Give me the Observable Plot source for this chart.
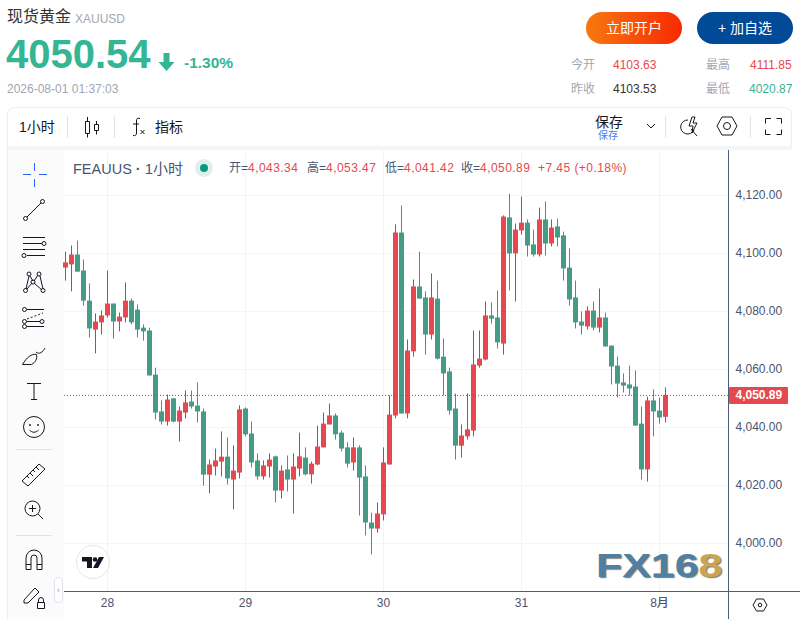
<!DOCTYPE html>
<html><head><meta charset="utf-8">
<script src="https://cdn.jsdelivr.net/npm/d3@7"></script>
<script src="https://cdn.jsdelivr.net/npm/@observablehq/plot@0.6"></script>
<style>
html,body{margin:0;padding:0;background:#fff;width:800px;height:619px;overflow:hidden;font-family:"Liberation Sans","Noto Sans CJK SC",sans-serif}
.a{position:absolute;white-space:nowrap;line-height:1}
svg.i{position:absolute;fill:none;stroke:#131722;stroke-width:1;overflow:visible}
#chart{position:absolute;left:64px;top:150px}
.n{color:#e5484d;letter-spacing:.45px}
</style></head><body>
<div class="a" style="left:7px;top:9px;font-size:16px;color:#333">现货黄金</div>
<div class="a" style="left:75px;top:13px;font-size:12px;color:#a3a6b0">XAUUSD</div>
<div class="a" style="left:6px;top:34px;font-size:40px;font-weight:bold;color:#34b594">4050.54</div>
<svg class="i" style="left:158px;top:53px;width:18px;height:18px;stroke:none;fill:#34b594"><path d="M5.500 0h6v9h5l-8 9-8-9h5z"/></svg>
<div class="a" style="left:184px;top:55px;font-size:15.5px;font-weight:bold;color:#34b594">-1.30%</div>
<div class="a" style="left:7px;top:83px;font-size:12px;color:#a3a6b0">2026-08-01 01:37:03</div>

<div class="a" style="left:586px;top:12px;width:96px;height:32px;border-radius:16px;background:linear-gradient(90deg,#f7780f,#f72a03);color:#fff;font-size:14px;line-height:32px;text-align:center">立即开户</div>
<div class="a" style="left:697px;top:12px;width:96px;height:32px;border-radius:16px;background:#014a97;color:#fff;font-size:14px;line-height:32px;text-align:center">+ 加自选</div>
<div class="a" style="left:571px;top:59px;font-size:12px;color:#a3a6b0">今开</div>
<div class="a" style="left:613px;top:59px;font-size:12px;color:#e5484d">4103.63</div>
<div class="a" style="left:706px;top:59px;font-size:12px;color:#a3a6b0">最高</div>
<div class="a" style="left:750px;top:59px;font-size:12px;color:#e5484d">4111.85</div>
<div class="a" style="left:571px;top:83px;font-size:12px;color:#a3a6b0">昨收</div>
<div class="a" style="left:613px;top:83px;font-size:12px;color:#333">4103.53</div>
<div class="a" style="left:706px;top:83px;font-size:12px;color:#a3a6b0">最低</div>
<div class="a" style="left:749px;top:83px;font-size:12px;color:#34b594">4020.87</div>

<div style="position:absolute;left:7px;top:107px;width:785px;height:43px;border:1px solid #eceef2;border-bottom:none;border-radius:8px 8px 0 0;box-sizing:border-box"></div>
<div style="position:absolute;left:8px;top:146px;width:784px;height:4px;background:#f4f5f7"></div>
<div style="position:absolute;left:7px;top:150px;width:57px;height:469px;background:#fbfbfc;border-left:1px solid #eceef2;box-sizing:border-box"></div>
<div class="a" style="left:19px;top:120px;font-size:14px;color:#131722">1小时</div>
<div style="position:absolute;left:67px;top:116px;width:1px;height:22px;background:#e0e3eb"></div>
<div style="position:absolute;left:114px;top:116px;width:1px;height:22px;background:#e0e3eb"></div>
<svg class="i" style="left:84px;top:116px;width:18px;height:22px"><path d="M1.500 5.500h4v12h-4zM3.500 1v4.500M3.500 17.500v4M10.500 8.500h4v6h-4zM12.500 5v3.500M12.500 14.500v4"/></svg>
<svg class="i" style="left:131px;top:117px;width:15px;height:20px"><path d="M9 1.500C6 .5 5.500 2 5.500 4v12c0 2-1 3-3.500 2.500M2 7h6M9.500 13l4 4M13.500 13l-4 4"/></svg>
<div class="a" style="left:155px;top:120px;font-size:14px;color:#131722">指标</div>

<div class="a" style="left:595px;top:115px;font-size:14px;color:#131722">保存</div>
<div class="a" style="left:598px;top:131px;font-size:10px;color:#4b7bf5">保存</div>
<svg class="i" style="left:646px;top:122px;width:10px;height:8px"><path d="M1 2l4 4 4-4"/></svg>
<div style="position:absolute;left:665px;top:116px;width:1px;height:22px;background:#e0e3eb"></div>
<svg class="i" style="left:680px;top:116px;width:20px;height:22px"><path d="M8 4a7 7 0 1 0 6 10M11 13l6 7M12 1l-3 9h4l-1 7 5-10h-4l2-6z"/></svg>
<svg class="i" style="left:717px;top:116px;width:20px;height:20px"><path d="M0 10L5 1h10l5 9-5 9H5z"/><circle cx="10" cy="10" r="3.500"/></svg>
<div style="position:absolute;left:750px;top:116px;width:1px;height:22px;background:#e0e3eb"></div>
<svg class="i" style="left:765px;top:118px;width:17px;height:17px"><path d="M.5 5.500V.5h5.500M11.500 .5h5v5M16.500 11.500v5h-5M5.500 16.500h-5v-5"/></svg>

<div style="position:absolute;left:729px;top:387px;width:59px;height:17px;background:#e5484f;border-radius:1px"></div>
<div id="chart"></div>

<div class="a" style="left:73px;top:161px;font-size:14.500px;color:#4a5570">FEAUUS<span style="font-weight:bold"> ·</span> <span style="font-size:15px">1小时</span></div>
<div style="position:absolute;left:195px;top:159px;width:18px;height:18px;border-radius:9px;background:#dff0ec"></div>
<div style="position:absolute;left:200px;top:164px;width:8px;height:8px;border-radius:4px;background:#089981"></div>
<div class="a" style="left:229px;top:162px;font-size:12px;color:#4a5570">开=<span class="n">4,043.34</span></div>
<div class="a" style="left:307px;top:162px;font-size:12px;color:#4a5570">高=<span class="n">4,053.47</span></div>
<div class="a" style="left:385px;top:162px;font-size:12px;color:#4a5570">低=<span class="n">4,041.42</span></div>
<div class="a" style="left:461px;top:162px;font-size:12px;color:#4a5570">收=<span class="n">4,050.89</span></div>
<div class="a" style="left:538px;top:162px;font-size:12px"><span class="n">+7.45 (+0.18%)</span></div>

<svg class="i" style="left:23px;top:163px;width:24px;height:24px;stroke:#2962ff"><path d="M0 11.500h8M16 11.500h8M11.500 0v8M11.500 16v8"/></svg>
<svg class="i" style="left:23px;top:199px;width:22px;height:22px"><circle cx="2.500" cy="19.500" r="2"/><circle cx="19.500" cy="2.500" r="2"/><path d="M4 18L18 4"/></svg>
<svg class="i" style="left:22px;top:235px;width:24px;height:22px"><path d="M1 2.500h22M1 8.500h19M1 14.500h22M5 20.500h18"/><circle cx="22" cy="8.500" r="2"/><circle cx="2" cy="20.500" r="2"/></svg>
<svg class="i" style="left:23px;top:271px;width:22px;height:22px"><circle cx="2.500" cy="19.500" r="2"/><circle cx="6" cy="3" r="2"/><circle cx="10" cy="11" r="2"/><circle cx="16" cy="3" r="2"/><circle cx="20" cy="19.500" r="2"/><path d="M3 18L6 5M7 5l3 5M11 10l4-6M17 5l3 13M4 18l5-6M11 12l8 7"/></svg>
<svg class="i" style="left:22px;top:307px;width:24px;height:22px"><circle cx="2.500" cy="2.500" r="2"/><circle cx="2.500" cy="14.500" r="2"/><circle cx="2.500" cy="19.500" r="2"/><circle cx="20" cy="14.500" r="2"/><path d="M5 2.500h17M5 19.500h17M5 14.500h13"/><path d="M5 12l16-6" stroke-dasharray="2 2"/></svg>
<svg class="i" style="left:22px;top:345px;width:26px;height:22px"><path d="M.5 19.500h9c4-2 6-6 5-10-5-1-10 3-14 10zM14 7c3 3 7 0 9-4"/></svg>
<svg class="i" style="left:26px;top:382px;width:16px;height:18px"><path d="M1 1.500h14M8 1.500v16M5 17.500h6"/></svg>
<svg class="i" style="left:22px;top:415px;width:24px;height:24px"><circle cx="12" cy="12" r="10.500"/><circle cx="8" cy="10" r=".6"/><circle cx="16" cy="10" r=".6"/><path d="M7.500 15c3 3 6 3 9 0"/></svg>
<div style="position:absolute;left:16px;top:449px;width:36px;height:1px;background:#e0e3eb"></div>
<svg class="i" style="left:22px;top:463px;width:24px;height:24px"><path d="M0 18L17 1l6 5L6 23zM5 13l2 2M8 10l3 3M11 7l2 2M14 4l3 3"/></svg>
<svg class="i" style="left:24px;top:500px;width:20px;height:20px"><circle cx="8.500" cy="8.500" r="7.500"/><path d="M14 14l5 5M5 8.500h7M8.500 5v7"/></svg>
<div style="position:absolute;left:16px;top:535px;width:36px;height:1px;background:#e0e3eb"></div>
<svg class="i" style="left:25px;top:549px;width:18px;height:21px"><path d="M1 20.500V9a8 8 0 0 1 16 0v11.500h-5V9a3 3 0 0 0-6 0v11.500zM1 15.500h5M12 15.500h5"/></svg>
<svg class="i" style="left:23px;top:585px;width:22px;height:24px"><path d="M1 15L12 3l4 4L5 18H1zM14.500 17.500h7v6h-7zM15.500 17v-2a2.500 2.500 0 0 1 5 0v2"/></svg>
<div style="position:absolute;left:54px;top:577px;width:9px;height:26px;border:1px solid #e0e3eb;border-radius:4px;background:#fff;box-sizing:border-box;font-size:9px;color:#999;line-height:24px;text-align:center">‹</div>

<div style="position:absolute;left:76px;top:545px;width:34px;height:34px;border-radius:17px;background:#fff;border:1px solid #e4e6ee;box-sizing:border-box"></div>
<svg class="i" style="left:80px;top:555px;width:26px;height:14px;stroke:none;fill:#131722"><path d="M2 2h10v11H7V6.500H2z"/><circle cx="15" cy="4.500" r="2.300"/><path d="M19 2h5l-6 11h-5z"/></svg>
<div class="a" style="left:596px;top:549px;font-size:33px;font-weight:bold;color:#4f80a3;text-shadow:1px 1px 1px #777;font-family:'Liberation Sans';transform:scaleX(1.3);transform-origin:left top">FX16<span style="color:#c9a452">8</span></div>
<svg class="i" style="left:753px;top:599px;width:14px;height:12px"><path d="M0 6L3.500 0h7L14 6l-3.500 6h-7z"/><circle cx="7" cy="6" r="1.800"/></svg>

<script>
const opens=[4094.8,4095.9,4099.3,4093.8,4083.4,4073.4,4075.9,4078.3,4082.4,4076.2,4077.6,4083.4,4080.3,4074.1,4073.1,4057.9,4045.2,4041.7,4049.7,4041.7,4044.8,4048.6,4047.2,4045.2,4023.4,4026.2,4027.9,4029.6,4021.7,4024.1,4046.2,4037.6,4028.3,4022.8,4026.2,4029.7,4017.9,4025.2,4021.7,4025.5,4029.3,4023.5,4026.9,4032.8,4040.7,4043.8,4037.9,4032.8,4027.6,4032.8,4022.8,4006.9,4004.8,4009.7,4026.9,4043.8,4106.9,4044.5,4065.9,4088.3,4084.5,4071.7,4084.1,4064.1,4059,4046.2,4033.4,4036.6,4038.6,4061,4063.1,4078.3,4077.6,4068.6,4112.1,4099.7,4107.6,4110.3,4102.8,4099.3,4111.4,4103.1,4109,4105.9,4094.8,4084.5,4076.2,4074.5,4080,4074.1,4077.6,4067.9,4061,4055.2,4054.5,4053.8,4041,4025.2,4049,4045.5,4043.34];
const closes=[4096.6,4099.3,4093.4,4083.4,4073.8,4076.2,4078.3,4082.4,4076.2,4077.9,4083.4,4075.9,4073.4,4072.8,4057.6,4044.8,4041.7,4049.3,4041.7,4045.5,4048.3,4046.9,4045.2,4023.4,4026.9,4028.3,4029.6,4022.1,4024.8,4045.9,4037.3,4027.6,4022.8,4026.6,4028.6,4017.9,4024.8,4021.7,4026.2,4029.7,4023.5,4027.2,4033.1,4041,4043.8,4037.3,4032.4,4027.2,4032.8,4022.4,4006.9,4004.8,4010,4027.6,4044.1,4106.9,4044.5,4066.2,4088.3,4084.1,4071.7,4084.5,4063.4,4058.3,4045.5,4033.4,4036.9,4039,4061.4,4063.4,4078.3,4077.2,4069,4112.4,4099.7,4107.9,4110.3,4102.4,4099.3,4111.4,4103.1,4108.6,4105.2,4094.5,4083.8,4075.9,4074.8,4080,4074.1,4077.6,4067.6,4060.7,4054.8,4054.1,4053.1,4040.3,4025.2,4049,4045.2,4043.1,4050.89];
const highs=[4100.3,4102.4,4104.1,4097.6,4089.3,4079,4080,4093.8,4082.4,4079.3,4089.7,4084.1,4082.1,4075.2,4074.1,4060.3,4049,4051,4049.7,4046.9,4052.4,4052.4,4055.2,4046.2,4028.6,4032.4,4038.3,4036.2,4033.5,4047.3,4046.6,4041.7,4030.7,4028.3,4030.7,4030,4026.6,4030,4030.7,4037.9,4032.8,4027.9,4040.3,4044.8,4047.9,4044.5,4038.6,4034.5,4036.2,4033.5,4026.6,4010.3,4013.8,4032.8,4050.7,4109.7,4116.2,4070,4090.7,4100.3,4086.6,4092.8,4090.3,4070.3,4060.3,4051.4,4040.7,4051.4,4073.1,4073.1,4083.1,4082.8,4086.9,4112.8,4120.3,4110,4119.3,4111.4,4107.9,4115.5,4117.6,4111.4,4111.7,4107.2,4101.4,4090.3,4079.7,4081.4,4083.1,4087.6,4079.3,4067.9,4064.1,4058.3,4061,4059.3,4046.9,4050.3,4052.8,4050,4053.47];
const lows=[4090.3,4086.6,4093.4,4081.7,4070.7,4065.2,4071.7,4077.6,4070.3,4072.8,4075.9,4075.2,4070.7,4069.6,4057.6,4042.4,4040.7,4040.3,4041.4,4034.8,4042.8,4046.2,4041.4,4019.6,4016.9,4023.1,4022.8,4020,4011.4,4022.1,4036.6,4025.9,4021.7,4021.7,4022.4,4013.8,4015.2,4017.6,4010,4022.8,4023.1,4020.3,4026.6,4032.8,4040.7,4035.5,4031.4,4025.9,4024.8,4009.3,4002.4,3995.9,4003.4,4007.6,4026.9,4042.8,4044.5,4042.8,4064.1,4084.1,4064.8,4070,4063.1,4050.7,4044.1,4028.6,4029.3,4035.5,4036.6,4060.3,4062.8,4075.5,4066.9,4064.8,4086.9,4083.1,4106.2,4098.6,4098.6,4098.6,4099,4102.1,4102.1,4090.3,4081.7,4073.8,4071.7,4073.4,4073.1,4072.4,4067.6,4054.5,4050,4051.7,4050.7,4040.3,4021.7,4021,4036.6,4041,4041.42];
const priceTicks=[4000,4020,4040,4060,4080,4100,4120];
const dayBars=[7,30,53,76,99];
const dayLabels=["28","29","30","31","8月"];
const lastClose=4050.89;
const UP="#e5484f",DOWN="#459c86",UPW="#a84a58",DOWNW="#568f6e",INK="#4a5570",GRID="#f3f4f5";

const bars=opens.map((o,i)=>({i,o,c:closes[i],h:highs[i],l:lows[i],up:closes[i]>=o}));
const fmt=d3.format(",.2f");
const chart=Plot.plot({
  width:736,height:469,
  marginLeft:0,marginRight:72,marginTop:0,marginBottom:28,
  style:{background:"transparent",fontFamily:"'Liberation Sans',sans-serif",overflow:"visible"},
  x:{type:"linear",domain:[-1/6,110.5],range:[0,664],axis:null},
  y:{type:"linear",domain:[3983.276,4135.345],range:[441,0],axis:null},
  marks:[
    Plot.ruleY(priceTicks,{x1:-1/6,x2:110.5,stroke:GRID,dy:0.5}),
    Plot.ruleX(dayBars,{stroke:GRID}),
    Plot.ruleX(bars,{x:"i",y1:"l",y2:"h",stroke:d=>d.up?UPW:DOWNW,strokeWidth:1}),
    Plot.ruleX(bars,{x:"i",y1:"o",y2:"c",stroke:d=>d.up?UP:DOWN,strokeWidth:5}),
    Plot.ruleY([lastClose],{x1:-1/6,x2:110.5,stroke:"#c93a45",strokeWidth:1,strokeDasharray:"1,2"}),
    Plot.text(priceTicks,{x:110.5,y:d=>d,text:d=>fmt(d),textAnchor:"start",dx:7,fill:INK,fontSize:12}),
    Plot.text(dayBars,{x:d=>d,frameAnchor:"bottom",dy:15,text:(d,j)=>dayLabels[j],fill:INK,fontSize:12,fontWeight:500,fontFamily:"'Liberation Sans','Noto Sans CJK SC',sans-serif"}),
    Plot.text([lastClose],{x:110.5,y:d=>d,text:d=>fmt(d),textAnchor:"start",dx:7,fill:"#fff",fontSize:12,fontWeight:"bold"})
  ]
});
document.getElementById("chart").appendChild(chart);
</script>
<div style="position:absolute;left:728px;top:150px;width:1px;height:469px;background:#4c5c7c"></div>
<div style="position:absolute;left:64px;top:591px;width:736px;height:1px;background:#4c5c7c"></div>
</body></html>
